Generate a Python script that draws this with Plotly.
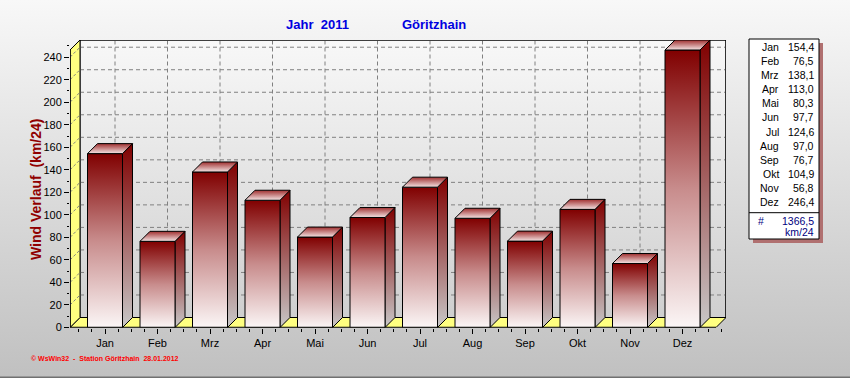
import plotly.graph_objects as go

# ---------------- data ----------------
months = ["Jan", "Feb", "Mrz", "Apr", "Mai", "Jun", "Jul", "Aug", "Sep", "Okt", "Nov", "Dez"]
wind = [154.4, 76.5, 138.1, 113.0, 80.3, 97.7, 124.6, 97.0, 76.7, 104.9, 56.8, 246.4]
total = 1366.5
total_unit = "km/24"
y_tick_values = list(range(0, 241, 20))
title_year = "Jahr  2011"
title_station = "Göritzhain"
y_title = "Wind Verlauf  (km/24)"
footer = "© WsWin32  -  Station Göritzhain  28.01.2012"

# ---------------- geometry (pixels) ----------------
W, H = 850, 378
PX_L, PX_R, PX_T, PX_B = 70, 726, 40, 327.5   # plot area incl. 3D depth
CAT_PX = 52.5          # px per category
FIRST_PX = 105         # px of first category centre
DEPTH = 10             # 3D depth in px
BAR_HALF = 17.5        # half width of front face in px

ymax = max(wind)
front_px = PX_B - (PX_T + DEPTH)
ppu = front_px / ymax                 # px per value unit
dy = DEPTH / ppu
dx = DEPTH / CAT_PX
hw = BAR_HALF / CAT_PX
x_lo = (PX_L - FIRST_PX) / CAT_PX
x_hi = (PX_R - FIRST_PX) / CAT_PX
y_hi = ymax + dy

DARK = "#800000"
YELLOW = "#ffff80"

fig = go.Figure()

# --- background gradient on a full-page helper axis pair (xy) ---
fig.add_trace(go.Scatter(
    x=[0, 1, 1, 0, 0], y=[0, 0, 1, 1, 0], mode="lines", fill="toself",
    line=dict(width=0, color="rgba(0,0,0,0)"),
    fillgradient=dict(type="vertical", start=0, stop=1,
                      colorscale=[[0, "#c0c0c0"], [1, "#f8f8f8"]]),
    hoverinfo="skip", showlegend=False, xaxis="x", yaxis="y"))


def poly(xs, ys, color=None, grad=None, lw=1, lcolor="black", dash=None, fill=True):
    kw = dict(x=xs, y=ys, mode="lines", xaxis="x2", yaxis="y2",
              line=dict(color=lcolor, width=lw, dash=dash),
              hoverinfo="skip", showlegend=False)
    if fill:
        kw["fill"] = "toself"
        if grad is not None:
            kw["fillgradient"] = grad
        else:
            kw["fillcolor"] = color
    fig.add_trace(go.Scatter(**kw))


# --- back wall ---
poly([x_lo + dx, x_hi, x_hi, x_lo + dx, x_lo + dx], [dy, dy, y_hi, y_hi, dy],
     grad=dict(type="vertical", start=dy, stop=y_hi,
               colorscale=[[0, "#cfcfcf"], [1, "#f8f8f8"]]), lw=1)

# --- grid lines (back wall horizontal + vertical) ---
gx, gy = [], []
for v in y_tick_values[1:]:
    gx += [x_lo + dx, x_hi, None]
    gy += [v + dy, v + dy, None]
for k in range(len(months)):
    gx += [k + dx, k + dx, None]
    gy += [dy, y_hi, None]
poly(gx, gy, fill=False, lcolor="#808080", lw=1, dash="4px,3px")

# --- floor ---
poly([x_lo, x_hi - dx, x_hi, x_lo + dx, x_lo], [0, 0, dy, dy, 0], color=YELLOW)

# --- left side wall ---
poly([x_lo, x_lo + dx, x_lo + dx, x_lo, x_lo], [0, dy, y_hi, ymax, 0], color=YELLOW)
wx, wy = [], []
for v in y_tick_values[1:]:
    wx += [x_lo, x_lo + dx, None]
    wy += [v, v + dy, None]
poly(wx, wy, fill=False, lcolor="#808080", lw=1, dash="3px,2px")

# --- frame right edge / top ---
poly([x_lo + dx, x_hi, x_hi], [y_hi, y_hi, dy], fill=False, lw=1.2)

# --- bars ---
for k, v in enumerate(wind):
    xl, xr = k - hw, k + hw
    # side face
    poly([xr, xr + dx, xr + dx, xr, xr], [0, dy, v + dy, v, 0],
         grad=dict(type="vertical", start=0, stop=v + dy,
                   colorscale=[[0, "#c8c8c8"], [1, DARK]]))
    # front face
    poly([xl, xr, xr, xl, xl], [0, 0, v, v, 0],
         grad=dict(type="vertical", start=0, stop=v,
                   colorscale=[[0, "#fbf6f6"], [0.5, "#c88c8c"], [1, DARK]]))
    # top face
    poly([xl, xr, xr + dx, xl + dx, xl], [v, v, v + dy, v + dy, v],
         grad=dict(type="vertical", start=v, stop=v + dy,
                   colorscale=[[0, "#f4e4e4"], [1, "#a03030"]]))

# --- front baseline & y-axis line ---
poly([x_lo, x_lo, x_hi - dx], [ymax, 0, 0], fill=False, lw=1.5)

# ---------------- legend box (table of values) ----------------
shapes = [
    dict(type="rect", xref="paper", yref="paper",
         x0=753 / W, x1=823 / W, y0=1 - 243 / H, y1=1 - 43 / H,
         fillcolor="#b07070", line=dict(width=0), layer="above"),
    dict(type="rect", xref="paper", yref="paper",
         x0=749 / W, x1=819 / W, y0=1 - 239 / H, y1=1 - 39 / H,
         fillcolor="white", line=dict(color="black", width=1), layer="above"),
    dict(type="line", xref="paper", yref="paper",
         x0=749 / W, x1=819 / W, y0=1 - 212.7 / H, y1=1 - 212.7 / H,
         line=dict(color="black", width=1), layer="above"),
    dict(type="line", xref="paper", yref="paper",
         x0=0, x1=1, y0=0.5 / H, y1=0.5 / H,
         line=dict(color="#707070", width=2), layer="above"),
]

annotations = []
FONT = "Liberation Sans, Arial, sans-serif"
for i, (m, v) in enumerate(zip(months, wind)):
    yy = 47.3 + i * 14.04
    annotations.append(dict(xref="paper", yref="paper", x=781 / W, y=1 - yy / H,
                            text=m, showarrow=False, xanchor="right", yanchor="middle",
                            font=dict(family=FONT, size=10.5, color="black")))
    annotations.append(dict(xref="paper", yref="paper", x=816 / W, y=1 - yy / H,
                            text=f"{v:.1f}".replace(".", ","), showarrow=False,
                            xanchor="right", yanchor="middle",
                            font=dict(family=FONT, size=10.5, color="black")))
annotations.append(dict(xref="paper", yref="paper", x=756 / W, y=1 - 221 / H,
                        text="#", showarrow=False, xanchor="left", yanchor="middle",
                        font=dict(family=FONT, size=10.5, color="#000080")))
annotations.append(dict(xref="paper", yref="paper", x=816 / W, y=1 - 221 / H,
                        text=f"{total:.1f}".replace(".", ","), showarrow=False,
                        xanchor="right", yanchor="middle",
                        font=dict(family=FONT, size=10.5, color="#000080")))
annotations.append(dict(xref="paper", yref="paper", x=816 / W, y=1 - 232 / H,
                        text=total_unit, showarrow=False, xanchor="right", yanchor="middle",
                        font=dict(family=FONT, size=10.5, color="#000080")))

# titles
annotations.append(dict(xref="paper", yref="paper", x=317 / W, y=1 - 24 / H,
                        text=f"<b>{title_year}</b>", showarrow=False,
                        xanchor="center", yanchor="middle",
                        font=dict(family=FONT, size=13, color="#0000e0")))
annotations.append(dict(xref="paper", yref="paper", x=434 / W, y=1 - 24 / H,
                        text=f"<b>{title_station}</b>", showarrow=False,
                        xanchor="center", yanchor="middle",
                        font=dict(family=FONT, size=13, color="#0000e0")))
annotations.append(dict(xref="paper", yref="paper", x=36 / W, y=1 - 190 / H,
                        text=f"<b>{y_title}</b>", showarrow=False, textangle=-90,
                        xanchor="center", yanchor="middle",
                        font=dict(family=FONT, size=14, color="#900000")))
annotations.append(dict(xref="paper", yref="paper", x=29 / W, y=1 - 358 / H,
                        text=f"<b>{footer}</b>", showarrow=False,
                        xanchor="left", yanchor="middle",
                        font=dict(family=FONT, size=7, color="#ff0000")))

fig.update_layout(
    template="none",
    width=W, height=H,
    margin=dict(l=0, r=0, t=0, b=0, pad=0, autoexpand=False),
    paper_bgcolor="#c0c0c0",
    plot_bgcolor="rgba(0,0,0,0)",
    showlegend=False,
    shapes=shapes,
    annotations=annotations,
    xaxis=dict(domain=[0, 1], range=[0, 1], visible=False, fixedrange=True, automargin=False),
    yaxis=dict(domain=[0, 1], range=[0, 1], visible=False, fixedrange=True, automargin=False),
    xaxis2=dict(domain=[PX_L / W, PX_R / W], range=[x_lo, x_hi], anchor="y2",
                tickmode="array", tickvals=list(range(len(months))), ticktext=months,
                ticks="outside", ticklen=5, tickcolor="black", automargin=False,
                minor=dict(ticks="outside", ticklen=3, tickcolor="black",
                           tickmode="linear", tick0=0, dtick=0.25),
                showgrid=False, zeroline=False, showline=False, fixedrange=True,
                tickfont=dict(family=FONT, size=11, color="black")),
    yaxis2=dict(domain=[1 - PX_B / H, 1 - PX_T / H], range=[0, y_hi], anchor="x2",
                tickmode="array", tickvals=y_tick_values,
                ticks="outside", ticklen=5, tickcolor="black", automargin=False,
                minor=dict(ticks="outside", ticklen=2, tickcolor="black",
                           tickmode="linear", tick0=0, dtick=10),
                showgrid=False, zeroline=False, showline=False, fixedrange=True,
                tickfont=dict(family=FONT, size=11, color="black")),
)

fig.write_html(
    "out.html",
    config={"displayModeBar": False, "responsive": False},
    post_script=(
        "var s=document.documentElement.style;s.margin='0';s.padding='0';s.overflow='hidden';"
        "var b=document.body.style;b.margin='0';b.padding='0';b.overflow='hidden';"
        "b.background='#c0c0c0';"
    ),
)
